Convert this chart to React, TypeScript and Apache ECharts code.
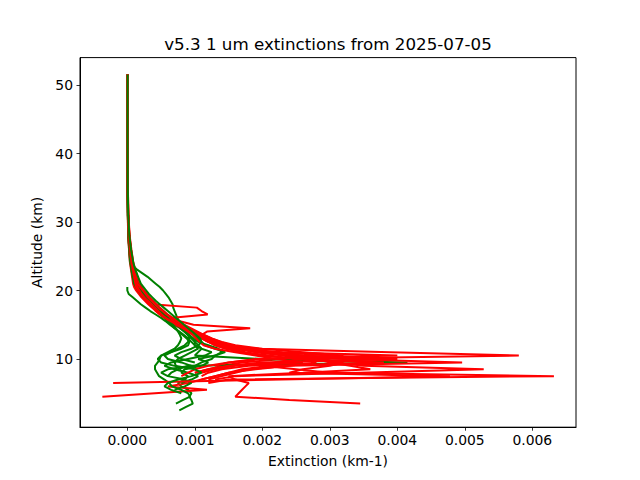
import React, { useEffect, useRef } from 'react';
import * as echarts from 'echarts';

// Altitude grid (km) shared by every profile
const ALT = [
  51.5, 47, 43, 39, 35, 31, 28, 26, 24, 23, 22, 21,
  20.5, 20, 19.5, 19, 18.5, 18, 17.5, 17, 16.5, 16, 15.5, 15, 14.5, 14, 13.5, 13,
  12.5, 12, 11.5, 11, 10.5, 10, 9.5, 9, 8.5, 8, 7.5, 7, 6.5, 6, 5.5, 5, 4.5, 4,
  3.5, 3, 2.5,
];

// Extinction values in units of 1e-3 km-1, one entry per altitude in ALT (profile ends when array ends)
const R1 = [0.004, 0.003, 0.005, 0.004, 0.006, 0.012, 0.025, 0.045, 0.07, 0.1, 0.13, 0.16,
  0.19, 0.22, 0.26, 0.3, 0.34, 0.38, 0.42, 0.47, 0.52, 0.58, 0.64, 0.72, 0.82, 0.92, 1.02, 1.12, 1.25, 1.45, 1.95, 3.9, 5.8, 2.3, 1.7, 1.4, 1.2, 1.0];
const R2 = [0.003, 0.004, 0.003, 0.005, 0.007, 0.01, 0.02, 0.04, 0.06, 0.08, 0.1, 0.12,
  0.15, 0.18, 0.22, 0.27, 0.31, 0.35, 0.4, 0.45, 0.5, 0.56, 0.63, 0.7, 0.79, 0.9, 1.0, 1.1, 1.2, 1.35, 1.6, 2.1, 2.6, 3.2, 4.96, 2.4, 1.9, 1.5, 1.3, 1.1];
const R3 = [0.005, 0.004, 0.004, 0.006, 0.008, 0.014, 0.03, 0.05, 0.08, 0.1, 0.13, 0.15,
  0.17, 0.2, 0.24, 0.28, 0.33, 0.37, 0.42, 0.48, 0.54, 0.6, 0.68, 0.77, 0.87, 0.98, 1.1, 1.22, 1.35, 1.5, 1.75, 2.1, 2.5, 2.9, 3.1, 3.5, 5.28, 3.45, 1.6, 1.3];
const R4 = [0.002, 0.003, 0.004, 0.003, 0.006, 0.009, 0.018, 0.035, 0.055, 0.075, 0.095, 0.115,
  0.14, 0.17, 0.2, 0.24, 0.28, 0.32, 0.37, 0.42, 0.48, 0.55, 0.62, 0.7, 0.8, 0.9, 1.0, 1.12, 1.26, 1.4, 1.6, 1.9, 2.3, 2.6, 2.2, 2.0, 2.5, 3.0, 6.32, 1.5, 1.2];
const R5 = [0.006, 0.005, 0.004, 0.006, 0.009, 0.015, 0.032, 0.055, 0.085, 0.11, 0.14, 0.17,
  0.2, 0.24, 0.28, 0.32, 0.36, 0.41, 0.46, 0.51, 0.57, 0.64, 0.72, 0.8, 0.9, 1.0, 1.1, 1.2, 1.32, 1.48, 1.7, 2.0, 2.4, 2.8, 3.0, 3.3, 3.6, 2.6, 1.5, 1.6, 1.8, 1.75, 1.7, 1.65, 1.6, 2.4, 3.45];
const R6 = [0.003, 0.004, 0.005, 0.004, 0.006, 0.011, 0.022, 0.04, 0.065, 0.085, 0.11, 0.135,
  0.16, 0.19, 0.23, 0.27, 0.31, 0.35, 0.39, 0.44, 0.5, 0.57, 0.64, 0.72, 0.8, 0.9, 1.0, 1.1, 1.2, 1.33, 1.5, 1.75, 2.1, 2.5, 3.8, 2.1, 1.7, 1.5, 1.3, 1.1, 0.9, 0.6, 1.18, 0.41, -0.37];
const R7 = [0.004, 0.002, 0.003, 0.005, 0.005, 0.008, 0.015, 0.03, 0.05, 0.065, 0.08, 0.1,
  0.12, 0.15, 0.19, 0.23, 0.28, 0.37, 1.03, 1.1, 1.19, 0.63, 0.64, 0.72, 0.82, 0.93, 1.04, 1.15, 1.28, 1.45, 1.7, 2.0, 2.6, 3.7, 2.2, 1.6, 1.3, 1.1];
const R8 = [0.002, 0.003, 0.002, 0.004, 0.005, 0.007, 0.012, 0.025, 0.04, 0.055, 0.07, 0.085,
  0.1, 0.13, 0.17, 0.21, 0.26, 0.31, 0.37, 0.44, 0.52, 0.62, 0.78, 0.98, 1.82, 1.18, 1.1, 1.15, 1.32, 1.55, 1.8, 2.2, 3.0, 4.0, 2.0, 1.5, 1.2, 1.0];
const R9 = [0.005, 0.006, 0.004, 0.005, 0.008, 0.016, 0.035, 0.06, 0.09, 0.12, 0.15, 0.18,
  0.21, 0.25, 0.29, 0.33, 0.38, 0.43, 0.48, 0.54, 0.6, 0.67, 0.75, 0.84, 0.94, 1.04, 1.14, 1.25, 1.38, 1.55, 1.75, 2.05, 2.4, 2.8, 3.2, 3.0, 2.6, 2.4, 4.78, 2.28, -0.21];
const R10 = [0.003, 0.003, 0.004, 0.004, 0.007, 0.01, 0.02, 0.038, 0.06, 0.08, 0.1, 0.12,
  0.13, 0.16, 0.2, 0.24, 0.28, 0.33, 0.38, 0.43, 0.49, 0.56, 0.64, 0.73, 0.83, 0.93, 1.03, 1.12, 1.2, 1.3, 1.5, 2.3, 4.0, 1.9, 1.5, 1.2, 1.0, 0.9, 0.8];
const R11 = [0.004, 0.005, 0.003, 0.005, 0.006, 0.012, 0.026, 0.046, 0.07, 0.09, 0.12, 0.145,
  0.18, 0.21, 0.25, 0.29, 0.33, 0.38, 0.43, 0.48, 0.54, 0.61, 0.69, 0.78, 0.87, 0.97, 1.07, 1.15, 1.22, 1.3, 1.45, 1.7, 1.95, 2.6, 2.8, 2.4, 1.8, 1.6, 1.4, 1.2];
const R12 = [0.005, 0.003, 0.004, 0.006, 0.007, 0.013, 0.028, 0.05, 0.075, 0.1, 0.125, 0.15,
  0.19, 0.23, 0.27, 0.31, 0.36, 0.41, 0.46, 0.52, 0.58, 0.66, 0.74, 0.83, 0.92, 1.02, 1.13, 1.25, 1.4, 1.6, 2.0, 2.6, 3.2, 2.0, 1.5, 1.3];
const R13 = [0.003, 0.004, 0.005, 0.003, 0.006, 0.01, 0.022, 0.042, 0.065, 0.085, 0.105, 0.13,
  0.15, 0.18, 0.21, 0.25, 0.29, 0.34, 0.39, 0.44, 0.5, 0.57, 0.65, 0.73, 0.82, 0.9, 0.97, 1.02, 1.07, 1.13, 1.3, 1.6, 1.9, 2.2, 2.6, 1.8, 1.4, 1.2, 1.1];

const N = null;
const G1 = [N, N, N, N, N, N, N, N, N, N, N, N,
  0.0, 0.0, 0.02, 0.08, 0.14, 0.2, 0.27, 0.34, 0.42, 0.5, 0.57, 0.63, 0.7, 0.77, 0.84, 0.9, 0.95, 1.0, 1.05, 0.95, 0.85, 0.75, 0.7, 0.72, 0.8];
const G2 = [0.003, 0.004, 0.003, 0.005, 0.006, 0.01, 0.018, 0.025, 0.04, 0.15, 0.3, 0.42,
  0.48, 0.53, 0.57, 0.61, 0.64, 0.67, 0.68, 0.7, 0.72, 0.74, 0.77, 0.8, 0.83, 0.86, 0.9, 0.95, 1.0, 1.05, 1.1, 1.05, 1.0, 2.0, 4.15, 0.9, 0.75, 0.65, 0.6];
const G3 = [0.004, 0.005, 0.004, 0.004, 0.006, 0.009, 0.02, 0.035, 0.06, 0.08, 0.11, 0.14,
  0.17, 0.2, 0.24, 0.28, 0.33, 0.38, 0.43, 0.48, 0.54, 0.6, 0.66, 0.72, 0.78, 0.84, 0.9, 0.97, 1.05, 1.2, 1.35, 1.4, 1.3, 1.25, 1.1, 1.0, 0.85, 0.8, 0.9, 0.85, 0.75, 0.8, 0.9, 0.95, 0.92, 0.95, 0.97, 0.87, 0.77];
const G4 = [0.003, 0.002, 0.004, 0.003, 0.005, 0.008, 0.015, 0.03, 0.05, 0.07, 0.09, 0.12,
  0.15, 0.18, 0.22, 0.26, 0.3, 0.35, 0.4, 0.45, 0.5, 0.55, 0.6, 0.65, 0.7, 0.76, 0.82, 0.88, 0.92, 0.9, 0.8, 0.65, 0.5, 0.48, 0.45, 0.41, 0.41, 0.44, 0.47, 0.55, 0.62, 0.66, 0.8, 0.9, 0.93, 0.82, 0.72];
const G5 = [0.005, 0.004, 0.005, 0.006, 0.007, 0.012, 0.028, 0.05, 0.08, 0.1, 0.13, 0.17,
  0.2, 0.24, 0.28, 0.32, 0.37, 0.42, 0.47, 0.52, 0.57, 0.62, 0.68, 0.73, 0.79, 0.85, 0.9, 0.92, 0.9, 0.85, 0.75, 0.65, 0.55, 0.6, 0.8, 0.95, 0.6, 0.5, 0.6, 0.85, 0.95, 0.85, 0.7];
const G6 = [0.002, 0.003, 0.003, 0.004, 0.005, 0.007, 0.014, 0.028, 0.045, 0.06, 0.08, 0.1,
  0.13, 0.16, 0.2, 0.24, 0.29, 0.34, 0.4, 0.46, 0.53, 0.6, 0.67, 0.74, 0.8, 0.86, 0.92, 0.98, 1.0, 1.0, 1.1, 1.25, 1.15, 0.9, 0.65, 0.55, 0.7, 0.9, 1.05, 0.95, 0.8];
const G7 = [0.004, 0.003, 0.005, 0.005, 0.006, 0.011, 0.024, 0.045, 0.07, 0.09, 0.12, 0.15,
  0.19, 0.22, 0.26, 0.3, 0.35, 0.4, 0.46, 0.52, 0.58, 0.65, 0.72, 0.79, 0.86, 0.93, 1.0, 1.05, 1.1, 1.15, 1.3, 1.45, 1.3, 1.05, 1.2, 1.1, 0.85];
const G8 = [0.003, 0.004, 0.003, 0.004, 0.006, 0.01, 0.02, 0.04, 0.065, 0.085, 0.11, 0.14,
  0.17, 0.21, 0.25, 0.3, 0.35, 0.4, 0.45, 0.5, 0.55, 0.6, 0.64, 0.68, 0.72, 0.75, 0.78, 0.8, 0.78, 0.75, 0.7, 0.6, 0.5, 0.45, 0.5, 0.7, 1.0, 1.1, 0.95, 0.75, 0.6, 0.55, 0.65, 0.8];
const G9 = [0.005, 0.004, 0.004, 0.005, 0.007, 0.013, 0.03, 0.055, 0.09, 0.12, 0.16, 0.2,
  0.24, 0.28, 0.32, 0.37, 0.42, 0.48, 0.54, 0.6, 0.66, 0.72, 0.78, 0.84, 0.9, 0.96, 1.02, 1.08, 1.1, 1.05, 0.95, 0.8, 0.7, 0.8, 1.0];

const RED = '#ff0000';
const GREEN = '#008000';
// draw order (later series are drawn on top)
const ORDER: [(number | null)[], string][] = [
  [R1, RED], [G2, GREEN], [R2, RED], [R3, RED], [G1, GREEN], [R4, RED], [G3, GREEN],
  [R5, RED], [R6, RED], [G4, GREEN], [R7, RED], [G5, GREEN], [R8, RED], [G6, GREEN],
  [R9, RED], [G7, GREEN], [R10, RED], [R11, RED], [G8, GREEN], [R12, RED], [R13, RED], [G9, GREEN],
];

const X_TICKS = [0, 0.001, 0.002, 0.003, 0.004, 0.005, 0.006];
const Y_TICKS = [10, 20, 30, 40, 50];

const FONT = 'DejaVu Sans';

export default function App() {
  const ref = useRef<HTMLDivElement>(null);
  useEffect(() => {
    const chart = echarts.init(ref.current!, null, { renderer: 'svg' });
    const series = ORDER.map(([vals, color]) => ({
      type: 'line',
      data: vals
        .map((v, i) => (v === null || v === undefined ? null : [v * 1e-3, ALT[i]]))
        .filter((p) => p !== null),
      showSymbol: false,
      symbol: 'none',
      lineStyle: { color, width: 2 },
      itemStyle: { color },
      silent: true,
      z: 2,
    }));
    chart.setOption({
      animation: false,
      backgroundColor: '#ffffff',
      title: {
        text: 'v5.3 1 um extinctions from 2025-07-05',
        left: 328,
        top: 35,
        textAlign: 'center',
        padding: 0,
        textStyle: { fontFamily: FONT, fontSize: 16.7, fontWeight: 'normal', color: '#000' },
      },
      grid: {
        left: 80,
        right: 64,
        top: 57.6,
        bottom: 52.8,
        show: true,
        borderColor: '#000',
        borderWidth: 1,
        containLabel: false,
      },
      xAxis: {
        type: 'value',
        min: -0.000701,
        max: 0.006647,
        name: 'Extinction (km-1)',
        nameLocation: 'middle',
        nameGap: 27,
        nameTextStyle: { fontFamily: FONT, fontSize: 13.9, color: '#000' },
        axisLine: { show: true, onZero: false, lineStyle: { color: '#000', width: 1 } },
        axisTick: { show: true, length: 3.5, lineStyle: { color: '#000', width: 0.8 }, customValues: X_TICKS },
        axisLabel: {
          customValues: X_TICKS,
          margin: 6,
          fontFamily: FONT,
          fontSize: 13.9,
          color: '#000',
          formatter: (v: number) => v.toFixed(3),
        },
        splitLine: { show: false },
      },
      yAxis: {
        type: 'value',
        min: 0.044,
        max: 54.0,
        name: 'Altitude (km)',
        nameLocation: 'middle',
        nameGap: 32,
        nameRotate: 90,
        nameTextStyle: { fontFamily: FONT, fontSize: 13.9, color: '#000' },
        axisLine: { show: true, onZero: false, lineStyle: { color: '#000', width: 1 } },
        axisTick: { show: true, length: 3.5, lineStyle: { color: '#000', width: 0.8 }, customValues: Y_TICKS },
        axisLabel: {
          customValues: Y_TICKS,
          margin: 7,
          fontFamily: FONT,
          fontSize: 13.9,
          color: '#000',
          formatter: (v: number) => String(v),
        },
        splitLine: { show: false },
      },
      series,
    });
    return () => chart.dispose();
  }, []);
  return (
    <div
      ref={ref}
      style={{ position: 'fixed', left: 0, top: 0, width: 640, height: 480, background: '#fff' }}
    />
  );
}
